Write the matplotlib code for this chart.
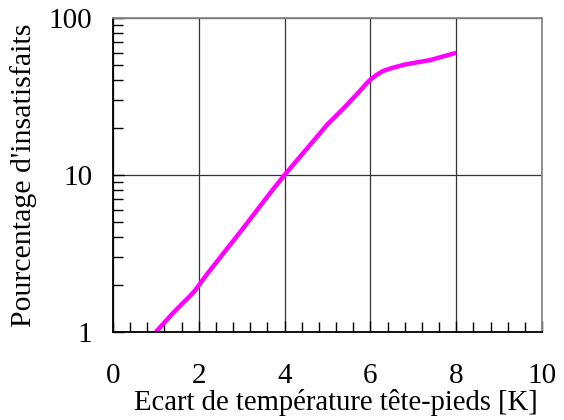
import matplotlib
matplotlib.use("Agg")
import matplotlib.pyplot as plt
from matplotlib.ticker import MultipleLocator, LogLocator, NullFormatter

# donnees
ecart = [1.0, 1.2, 1.4, 1.6, 1.8, 1.9, 2.0, 2.2, 3.0, 3.7, 4.0, 5.0, 5.4, 5.7,
         5.9, 6.0, 6.15, 6.3, 6.5, 6.8, 7.4, 8.0]
insatisfaits = [1.0, 1.15, 1.32, 1.5, 1.7, 1.82, 1.98, 2.35, 4.45, 7.9, 10.0, 21.0,
                27.0, 33.0, 38.0, 40.5, 43.5, 46.0, 48.0, 50.5, 54.0, 60.0]
xticks = [0, 2, 4, 6, 8, 10]
yticks = [1, 10, 100]

plt.rcParams["font.family"] = ["Liberation Serif", "DejaVu Serif"]

fig = plt.figure(figsize=(5.64, 4.2), dpi=100)
ax = fig.add_axes([113 / 564, 1 - 332 / 420, (542 - 113) / 564, (332 - 18) / 420])

ax.plot(ecart, insatisfaits, color="#ff00ff", lw=3.2,
        solid_joinstyle="round", solid_capstyle="butt")

ax.set_yscale("log")
ax.set_xlim(0, 10)
ax.set_ylim(1, 100)
ax.set_xticks(xticks)
ax.set_xticklabels([str(t) for t in xticks])
ax.set_yticks(yticks)
ax.set_yticklabels([str(t) for t in yticks])
ax.xaxis.set_minor_locator(MultipleLocator(0.4))
ax.yaxis.set_minor_locator(LogLocator(base=10, subs=range(2, 10)))
ax.yaxis.set_minor_formatter(NullFormatter())

ax.tick_params(axis="x", which="both", direction="in", top=False, labelsize=21, pad=22)
ax.tick_params(axis="y", which="both", direction="in", right=False, labelsize=21, pad=15)
ax.tick_params(which="major", length=8, width=1, color="black")
ax.tick_params(which="minor", length=7, width=1, color="black")

ax.grid(True, which="major", color="#333333", lw=0.9)

for side in ["left", "bottom"]:
    ax.spines[side].set_color("black")
    ax.spines[side].set_linewidth(1.3)
for side in ["top", "right"]:
    ax.spines[side].set_color("#888888")
    ax.spines[side].set_linewidth(1.3)

ax.set_xlabel("Ecart de température tête-pieds [K]", fontsize=20.6)
ax.xaxis.set_label_coords(0.52, -0.18)
ax.set_ylabel("Pourcentage d'insatisfaits", fontsize=21.5, labelpad=8)

fig.savefig("out.png", dpi=100)
